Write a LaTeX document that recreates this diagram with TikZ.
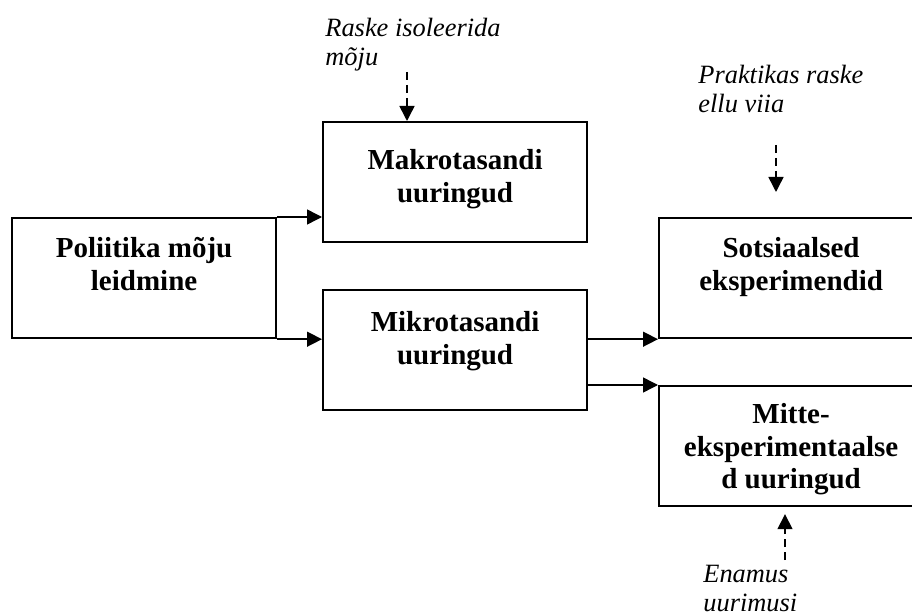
\documentclass[tikz,border=0pt]{standalone}
\usepackage{fontspec}
\setmainfont{Liberation Serif}
\usetikzlibrary{arrows.meta}

\begin{document}
\begin{tikzpicture}[x=0.5pt, y=-0.5pt, >={Triangle[length=7.5pt, width=7.5pt]},
    box/.style = {draw, line width=1.1pt, minimum width=132pt, minimum height=60pt, inner sep=0pt,
        align=center, anchor=north west, font=\fontsize{14.5}{16.25}\selectfont\bfseries},
    note/.style = {align=left, anchor=north west, inner sep=0pt, font=\fontsize{13.2}{14.5}\selectfont\itshape},
    link/.style = {->, line width=0.75pt},
    hint/.style = {->, line width=0.75pt, dash pattern=on 4pt off 2.5pt}]
        \useasboundingbox (0,0) rectangle (912,615);

        \node[box, text depth=14pt] (pol) at (11,217) {Poliitika mõju\\leidmine};
        \node[box, text depth=6pt] (mak) at (322,121) {Makrotasandi\\uuringud};
        \node[box, text depth=12pt] (mik) at (322,289) {Mikrotasandi\\uuringud};
        \node[box, text depth=14pt] (sots) at (658,217) {Sotsiaalsed\\eksperimendid};
        \node[box, text depth=0pt] (mit) at (658,385) {Mitte-\\eksperimentaalse\\d uuringud};

        \node[note] (rsk) at (325,18) {Raske isoleerida\\mõju};
        \node[note] (prk) at (698,65) {Praktikas raske\\ellu viia};
        \node[note] (ena) at (703,565) {Enamus\\uurimusi};

        \coordinate (h1) at (407,72);
        \coordinate (h2) at (776,145);
        \coordinate (h3) at (785,560);

        \draw[link] (pol.north east) -- (pol.north east -| mak.west);
        \draw[link] (pol.south east) -- (pol.south east -| mik.west);
        \draw[link] (mik.east |- sots.south) -- (sots.south west);
        \draw[link] (mik.east |- mit.north) -- (mit.north west);
        \draw[hint] (h1) -- (h1 |- mak.north);
        \draw[hint, shorten >=12.5pt] (h2) -- (h2 |- sots.north);
        \draw[hint, shorten >=3.5pt] (h3) -- (h3 |- mit.south);
    \end{tikzpicture}
\end{document}
